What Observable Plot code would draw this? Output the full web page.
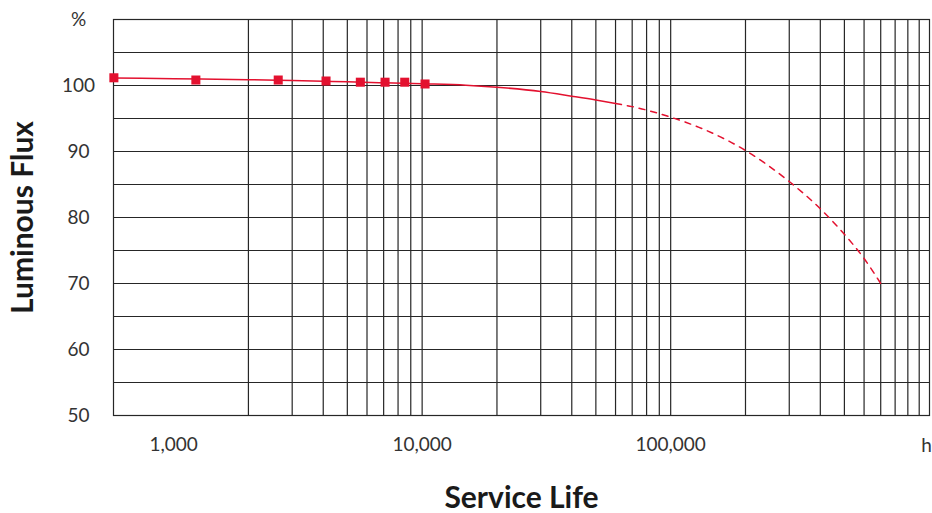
<!DOCTYPE html>
<html>
<head>
<meta charset="utf-8">
<script src="https://cdn.jsdelivr.net/npm/d3@7"></script>
<script src="https://cdn.jsdelivr.net/npm/@observablehq/plot@0.6"></script>
<style>
  html, body { margin: 0; padding: 0; background: #fff; }
  #chart svg { display: block; }
</style>
</head>
<body>
<div id="chart"></div>
<script>
// Measured points (hours, % luminous flux)
const measuredHours = [575, 1229, 2636, 4105, 5641, 7092, 8511, 10274];
const measuredFlux  = [101.17, 100.83, 100.83, 100.68, 100.5, 100.5, 100.5, 100.23];

// Fitted curve (solid)
const fitHours = [575, 1000, 2000, 3000, 4000, 5000, 7000, 10000, 15000, 20000, 30000, 40000, 50000, 60000];
const fitFlux  = [101.14, 101.02, 100.88, 100.74, 100.64, 100.55, 100.41, 100.26, 100.05, 99.74, 99.09, 98.38, 97.8, 97.27];

// Projected curve (dashed)
const projHours = [60000, 70000, 100000, 140000, 200000, 300000, 400000, 500000, 600000, 700000];
const projFlux  = [97.27, 96.8, 95.2, 93.15, 90.15, 85.45, 81.32, 77.45, 73.79, 70.0];

// Axes
const xDomain = [573, 1100000];
const yDomain = [50, 110];
const xTickValues = [1000, 10000, 100000];
const xTickLabels = ["1,000", "10,000", "100,000"];
const yTickValues = [50, 60, 70, 80, 90, 100, 110];
const yTickLabels = ["50", "60", "70", "80", "90", "100", "%"];
const xGrid = [2000, 3000, 4000, 5000, 6000, 7000, 8000, 9000,
               10000, 20000, 30000, 40000, 50000, 60000, 70000, 80000, 90000,
               100000, 200000, 300000, 400000, 500000, 600000, 700000, 800000, 900000,
               1000000];
const yGrid = [55, 60, 65, 70, 75, 80, 85, 90, 95, 100, 105];
const xUnit = "h";
const xTitle = "Service Life";
const yTitle = "Luminous Flux";

const measured = measuredHours.map((h, i) => ({h, f: measuredFlux[i]}));
const fit = fitHours.map((h, i) => ({h, f: fitFlux[i]}));
const proj = projHours.map((h, i) => ({h, f: projFlux[i]}));
const xLab = new Map(xTickValues.map((v, i) => [v, xTickLabels[i]]));
const yLab = new Map(yTickValues.map((v, i) => [v, yTickLabels[i]]));

const red = "#e3112f";
const gridColor = "#262626";
const textColor = "#333";
const titleColor = "#1a1a1a";

const chart = Plot.plot({
  width: 932,
  height: 513,
  marginLeft: 113,
  marginRight: 3,
  marginTop: 19,
  marginBottom: 98,
  style: {fontFamily: "Lato, 'Noto Sans', sans-serif", background: "#fff", overflow: "visible"},
  x: {type: "log", domain: xDomain},
  y: {domain: yDomain},
  marks: [
    Plot.ruleX(xGrid, {stroke: gridColor, strokeWidth: 1.2}),
    Plot.ruleY(yGrid, {stroke: gridColor, strokeWidth: 1.2}),
    Plot.frame({stroke: gridColor, strokeWidth: 1.2}),
    Plot.axisX({ticks: xTickValues, tickFormat: d => xLab.get(d), tickSize: 0, tickPadding: 22,
                fontSize: 19, fill: textColor, label: null}),
    Plot.axisY({ticks: yTickValues, tickFormat: d => yLab.get(d), tickSize: 0, tickPadding: 35,
                textAnchor: "middle", fontSize: 19, fill: textColor, label: null}),
    Plot.line(fit, {x: "h", y: "f", curve: "monotone-x", stroke: red, strokeWidth: 1.5}),
    Plot.line(proj, {x: "h", y: "f", curve: "monotone-x", stroke: red, strokeWidth: 1.5, strokeDasharray: "6,6"}),
    Plot.dot(measured, {x: "h", y: "f", symbol: "square", r: 5.1, fill: red, stroke: "none"}),
    Plot.text([yTitle], {frameAnchor: "left", textAnchor: "middle", lineAnchor: "middle", dx: -90, rotate: -90,
                         fontSize: 30, fontWeight: 700, fill: titleColor}),
    Plot.text([xTitle], {frameAnchor: "bottom", textAnchor: "middle", lineAnchor: "middle", dy: 83,
                         fontSize: 30, fontWeight: 700, fill: titleColor}),
    Plot.text([xUnit], {frameAnchor: "bottom-right", textAnchor: "middle", lineAnchor: "middle", dx: -3, dy: 30,
                        fontSize: 19, fill: textColor})
  ]
});
document.getElementById("chart").appendChild(chart);
</script>
</body>
</html>
